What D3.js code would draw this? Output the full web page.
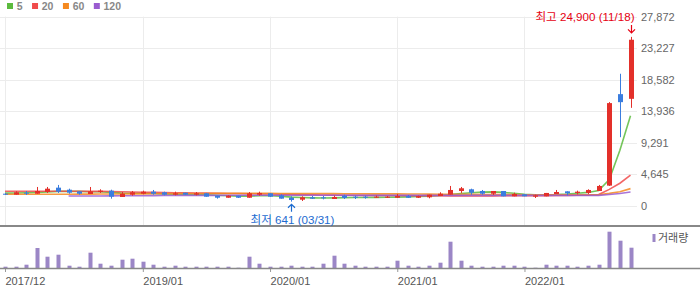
<!DOCTYPE html>
<html><head><meta charset="utf-8">
<script src="https://cdn.jsdelivr.net/npm/d3@7/dist/d3.min.js"></script>
<style>
body{margin:0;background:#fff;}
svg{display:block;font-family:"Liberation Sans",Arial,"Noto Sans CJK KR",sans-serif;}
</style></head><body>
<svg id="c" width="700" height="289"></svg>
<script>
const months = ["2017/12","2018/01","2018/02","2018/03","2018/04","2018/05","2018/06","2018/07","2018/08","2018/09","2018/10","2018/11","2018/12",
"2019/01","2019/02","2019/03","2019/04","2019/05","2019/06","2019/07","2019/08","2019/09","2019/10","2019/11","2019/12",
"2020/01","2020/02","2020/03","2020/04","2020/05","2020/06","2020/07","2020/08","2020/09","2020/10","2020/11","2020/12",
"2021/01","2021/02","2021/03","2021/04","2021/05","2021/06","2021/07","2021/08","2021/09","2021/10","2021/11","2021/12",
"2022/01","2022/02","2022/03","2022/04","2022/05","2022/06","2022/07","2022/08","2022/09","2022/10","2022/11"];
const opens  = [1810,1670,1960,1810,2060,2700,2400,2160,1770,2060,2260,1330,1670,1810,2110,2020,1670,1960,1670,1870,1520,1220,1520,1220,1670,1870,1570,1220,930,1280,1280,1030,1520,1370,1370,1220,1220,1220,1470,1220,1280,1470,1670,2210,2460,2210,1810,2210,1430,1720,1370,1430,1770,2160,1920,1920,2210,3000,16470,15780];
const highs  = [1870,2170,2210,2800,2800,3100,2550,2160,2800,2460,2400,2060,2210,2260,2360,2110,2110,1960,2060,1920,1520,1570,1520,2060,2110,1870,1720,1430,1430,1470,1470,1520,1670,1520,1520,1520,1470,1770,1620,1520,1670,2020,2950,2800,2550,2360,2210,2210,1960,1720,1670,1920,2360,2160,2260,2460,3100,15300,19470,24900];
const lows   = [1620,1670,1620,1810,1920,1920,1810,1670,1770,1920,1080,1330,1520,1720,1670,1570,1570,1620,1570,1370,1080,1220,1180,1220,1520,1330,1080,641,740,1030,980,1030,1030,1030,1080,1220,1180,1180,1180,1180,1130,1470,1670,1920,1670,1670,1620,1430,1430,1430,1180,1430,1770,1570,1720,1770,2210,2950,10130,14450];
const closes = [1670,2020,1810,2210,2550,2110,1960,1810,2160,2260,1370,1810,2020,2110,1810,1670,1870,1670,1870,1370,1220,1520,1220,1870,1920,1370,1080,880,1280,1080,1130,1330,1180,1220,1220,1370,1370,1470,1220,1470,1670,1810,2360,2610,1960,1810,2210,1430,1770,1430,1570,1920,2060,1870,2110,2360,2950,15150,15290,24480];
const volumes = [13000,13000,33000,200000,113000,133000,23000,13000,153000,43000,23000,83000,93000,63000,33000,13000,23000,13000,13000,13000,13000,13000,3000,113000,43000,13000,13000,23000,13000,13000,43000,123000,43000,23000,13000,13000,13000,73000,23000,13000,23000,53000,263000,73000,23000,13000,13000,23000,23000,13000,3000,33000,23000,23000,13000,23000,33000,363000,273000,203000];
const ma5   = [1900,1920,1950,2000,2080,2150,2180,2150,2100,2100,2000,1900,1870,1870,1850,1780,1720,1700,1680,1650,1580,1500,1450,1450,1500,1500,1450,1300,1250,1200,1180,1200,1230,1250,1250,1270,1280,1300,1350,1400,1450,1550,1700,1850,1950,2050,2080,2000,1870,1720,1650,1650,1680,1750,1870,2000,2280,3900,8200,13300];
const ma20  = [2170,2170,2170,2180,2180,2180,2170,2170,2160,2150,2130,2100,2060,2030,2000,1980,1950,1930,1910,1890,1870,1850,1830,1810,1790,1770,1740,1710,1680,1650,1620,1600,1590,1580,1570,1560,1550,1540,1530,1520,1510,1500,1490,1490,1480,1480,1490,1500,1510,1520,1520,1530,1540,1560,1580,1600,1680,2450,3350,4550];
const ma60  = [1720,1720,1720,1730,1730,1740,1740,1750,1750,1760,1760,1770,1780,1790,1800,1810,1820,1830,1840,1850,1860,1860,1860,1860,1860,1860,1850,1850,1840,1830,1830,1820,1810,1800,1800,1790,1780,1780,1770,1760,1750,1740,1730,1720,1710,1700,1690,1680,1670,1660,1650,1650,1650,1650,1650,1650,1660,1860,2110,2560];
const ma120 = [null,null,null,null,null,null,1470,1470,1480,1480,1490,1500,1510,1520,1530,1540,1550,1560,1560,1570,1570,1580,1580,1580,1580,1580,1580,1580,1580,1580,1580,1580,1580,1570,1570,1570,1570,1570,1570,1560,1560,1560,1560,1560,1560,1560,1560,1560,1560,1560,1560,1560,1560,1560,1560,1560,1570,1700,1830,2060];
const maNames = ["5","20","60","120"];
const xTickLabels = ["2017/12","2019/01","2020/01","2021/01","2022/01"];
const yTicks = [0,4645,9291,13936,18582,23227,27872];
const maxLabel = "최고 24,900 (11/18)";
const minLabel = "최저 641 (03/31)";
const volLabel = "거래량";

const maColors = ["#5cbb3e","#f04b4b","#f5891f","#9a5cd0"];
const UP = "#e3302a", DOWN = "#3a7ddf";

const svg = d3.select("#c");
const x = d3.scalePoint().domain(months).range([5, 630.5]);
const y = d3.scaleLinear().domain([0, 27872]).range([206, 16.7]);
const yv = d3.scaleLinear().domain([0, 420000]).range([268, 226]);

// vertical grid
svg.append("g").selectAll("line").data(xTickLabels).join("line")
  .attr("x1", d => Math.round(x(d)) + 0.5).attr("x2", d => Math.round(x(d)) + 0.5).attr("y1", 16.7).attr("y2", 225)
  .attr("stroke", "#ececec").attr("stroke-width", 1);

// horizontal grid + right axis
const ya = svg.append("g").attr("transform", "translate(637,0)")
  .call(d3.axisRight(y).tickValues(yTicks).tickSize(-637).tickPadding(4).tickFormat(d3.format(",")));
ya.select(".domain").remove();
ya.selectAll(".tick line").attr("stroke", "#ececec").attr("shape-rendering","crispEdges");
ya.selectAll(".tick text").attr("fill", "#666").attr("font-size", 11)
  .attr("font-family", '"Liberation Sans",Arial,sans-serif');

// moving averages
const mas = [ma5, ma20, ma60, ma120];
const maLine = d3.line().defined(d => d != null).x((d, i) => x(months[i])).y(d => y(d));
mas.forEach((arr, k) => {
  svg.append("path").datum(arr)
    .attr("d", maLine)
    .attr("fill", "none").attr("stroke", maColors[k]).attr("stroke-width", 1.6)
    .attr("stroke-opacity", 0.85);
});

// candles
const idx = d3.range(months.length);
const cg = svg.append("g");
cg.selectAll("line").data(idx).join("line")
  .attr("x1", i => Math.round(x(months[i])) + 0.5).attr("x2", i => Math.round(x(months[i])) + 0.5)
  .attr("y1", i => y(highs[i])).attr("y2", i => y(lows[i]))
  .attr("stroke", i => closes[i] >= opens[i] ? UP : DOWN).attr("stroke-width", 1);
cg.selectAll("rect").data(idx).join("rect")
  .attr("x", i => Math.round(x(months[i])) - 2)
  .attr("width", 5)
  .attr("y", i => y(Math.max(opens[i], closes[i])))
  .attr("height", i => Math.max(1, Math.abs(y(opens[i]) - y(closes[i]))))
  .attr("fill", i => closes[i] >= opens[i] ? UP : DOWN);

// panel separator
svg.append("line").attr("x1", 0).attr("x2", 700).attr("y1", 226).attr("y2", 226)
  .attr("stroke", "#888").attr("stroke-width", 2);

// volume bars
svg.append("g").selectAll("rect").data(idx).join("rect")
  .attr("x", i => Math.round(x(months[i])) - 1.5).attr("width", 4)
  .attr("y", i => yv(volumes[i])).attr("height", i => yv(0) - yv(volumes[i]))
  .attr("fill", "#9b86c6");

// x axis
const xa = svg.append("g").attr("transform", "translate(0,268)")
  .call(d3.axisBottom(x).tickValues(xTickLabels).tickSize(4).tickPadding(5));
xa.select(".domain").remove();
xa.selectAll(".tick line").attr("stroke", "#999");
xa.selectAll(".tick text").attr("text-anchor", "start").attr("fill", "#555").attr("font-size", 11)
  .attr("font-family", '"Liberation Sans",Arial,sans-serif');
svg.append("line").attr("x1", 0).attr("x2", 700).attr("y1", 268.5).attr("y2", 268.5)
  .attr("stroke", "#888").attr("stroke-width", 1.5);

// volume legend
svg.append("rect").attr("x", 652.5).attr("y", 234).attr("width", 3).attr("height", 8).attr("fill", "#9b86c6");
svg.append("text").attr("x", 658).attr("y", 242).attr("font-size", 11).attr("fill", "#555")
  .attr("font-family", '"Noto Sans CJK KR",sans-serif').text(volLabel);

// MA legend
let lx = 7;
maNames.forEach((n, k) => {
  svg.append("rect").attr("x", lx).attr("y", 3).attr("width", 6).attr("height", 6).attr("fill", maColors[k]);
  const t = svg.append("text").attr("x", lx + 9.7).attr("y", 9.8).attr("font-size", 10.5)
    .attr("font-weight", "bold").attr("fill", "#888").text(n);
  lx = lx + 9.7 + t.node().getComputedTextLength() + 9.5;
});

// max / min annotations
const iMax = d3.maxIndex(highs), iMin = d3.minIndex(lows);
const xm = Math.round(x(months[iMax])) + 0.5;
svg.append("text").attr("x", 634.5).attr("y", 21).attr("text-anchor", "end")
  .attr("font-size", 11.6).attr("fill", "#e60012").text(maxLabel);
svg.append("path").attr("d", `M${xm},${y(highs[iMax]) - 12}V${y(highs[iMax]) - 4}M${xm - 3.5},${y(highs[iMax]) - 7.5}L${xm},${y(highs[iMax]) - 4}L${xm + 3.5},${y(highs[iMax]) - 7.5}`)
  .attr("fill", "none").attr("stroke", "#e60012").attr("stroke-width", 1.2);
const xn = Math.round(x(months[iMin])) + 0.5;
svg.append("text").attr("x", xn + 1).attr("y", 223.5).attr("text-anchor", "middle")
  .attr("font-size", 11.6).attr("fill", "#1c6bd0").text(minLabel);
svg.append("path").attr("d", `M${xn},${y(lows[iMin]) + 10}V${y(lows[iMin]) + 2.6}M${xn - 3.5},${y(lows[iMin]) + 6.1}L${xn},${y(lows[iMin]) + 2.6}L${xn + 3.5},${y(lows[iMin]) + 6.1}`)
  .attr("fill", "none").attr("stroke", "#1c6bd0").attr("stroke-width", 1.2);
</script>
</body></html>
